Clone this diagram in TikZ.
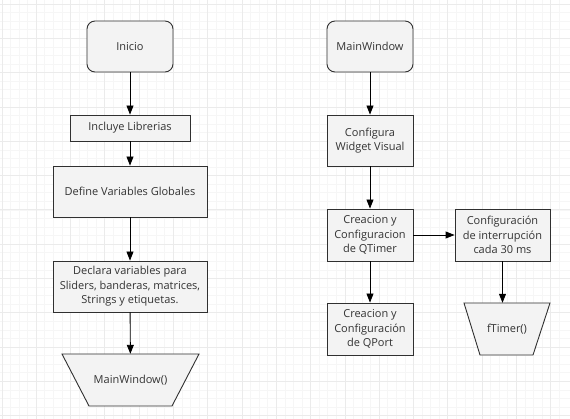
\documentclass[tikz,border=0pt]{standalone}
\usepackage{fontspec}
\setmainfont{Open Sans}
\usetikzlibrary{arrows.meta,calc}
\definecolor{txt}{HTML}{333333}
\definecolor{boxfill}{HTML}{F3F3F3}
\definecolor{boxline}{HTML}{303030}
\definecolor{gridminor}{HTML}{F6F6F6}
\definecolor{gridmajor}{HTML}{EBEBEB}
\begin{document}
\begin{tikzpicture}[x=1pt,y=-1pt,
  every node/.style={font=\fontsize{11}{14.5}\selectfont, text=txt, align=center, inner sep=0pt},
  procbox/.style={draw=boxline, fill=boxfill, line width=0.9pt},
  termbox/.style={procbox, rounded corners=8pt},
  trap/.style={draw=boxline, fill=boxfill, line width=0.9pt},
  flow/.style={draw=black, line width=0.9pt, -{Triangle[width=7pt,length=9pt]}}]
\useasboundingbox (0,0) rectangle (570,419);
\fill[white] (0,0) rectangle (570,419);
% grid
\foreach \i in {0,...,66} {
  \draw[gridminor, line width=0.7pt] ({1.9-8.575+\i*8.575},0) -- ({1.9-8.575+\i*8.575},419);
}
\foreach \i in {0,...,49} {
  \draw[gridminor, line width=0.7pt] (0,{4.1-8.575+\i*8.575}) -- (570,{4.1-8.575+\i*8.575});
}
\foreach \i in {0,...,16} {
  \draw[gridmajor, line width=0.8pt] ({1.9+\i*34.3},0) -- ({1.9+\i*34.3},419);
}
\foreach \i in {0,...,12} {
  \draw[gridmajor, line width=0.8pt] (0,{4.1+\i*34.3}) -- (570,{4.1+\i*34.3});
}
% trapezoid shapes
\draw[trap] (62,354) -- (199,354) -- (172,406) -- (89,406) -- cycle;
\draw[trap] (464,303) -- (550,303) -- (533,355) -- (480,355) -- cycle;
% left column
\node[termbox, minimum width=86pt, minimum height=51pt] (inicio) at (130,46.5) {Inicio};
\node[procbox, minimum width=120pt, minimum height=26pt] (incl) at (130,128) {Incluye Librerias};
\node[procbox, minimum width=154pt, minimum height=51pt] (defv) at (130,191.5) {Define Variables Globales};
\node[procbox, minimum width=154pt, minimum height=51pt] (decl) at (130,286.5) {Declara variables para\\Sliders, banderas, matrices,\\Strings y etiquetas.};
\node[minimum width=137pt, minimum height=52pt] (mwcall) at (130.5,380) {MainWindow()};
% right column
\node[termbox, minimum width=86pt, minimum height=51pt] (mainw) at (370,46.5) {MainWindow};
\node[procbox, minimum width=86pt, minimum height=51pt] (conf) at (370,140.5) {Configura\\Widget Visual};
\node[procbox, minimum width=86pt, minimum height=52pt] (qtimer) at (370,235) {Creacion y\\Configuracion\\de QTimer};
\node[procbox, minimum width=86pt, minimum height=52pt] (qport) at (370,329) {Creacion y\\Configuración\\de QPort};
\node[procbox, minimum width=95pt, minimum height=52pt] (inter) at (502.5,235) {Configuración\\de interrupción\\cada 30 ms};
\node[minimum width=86pt, minimum height=52pt] (ftimer) at (507,329) {fTimer()};
% connectors
\draw[flow] (inicio) -- (incl);
\draw[flow] (incl) -- (defv);
\draw[flow] (defv) -- (decl);
\draw[flow] (decl) -- (mwcall);
\draw[flow] (mainw) -- (conf);
\draw[flow] (conf) -- (qtimer);
\draw[flow] (qtimer) -- (qport);
\draw[flow] (qtimer) -- (inter);
\draw[flow] (inter.south) -- (inter.south |- ftimer.north);
\end{tikzpicture}
\end{document}
